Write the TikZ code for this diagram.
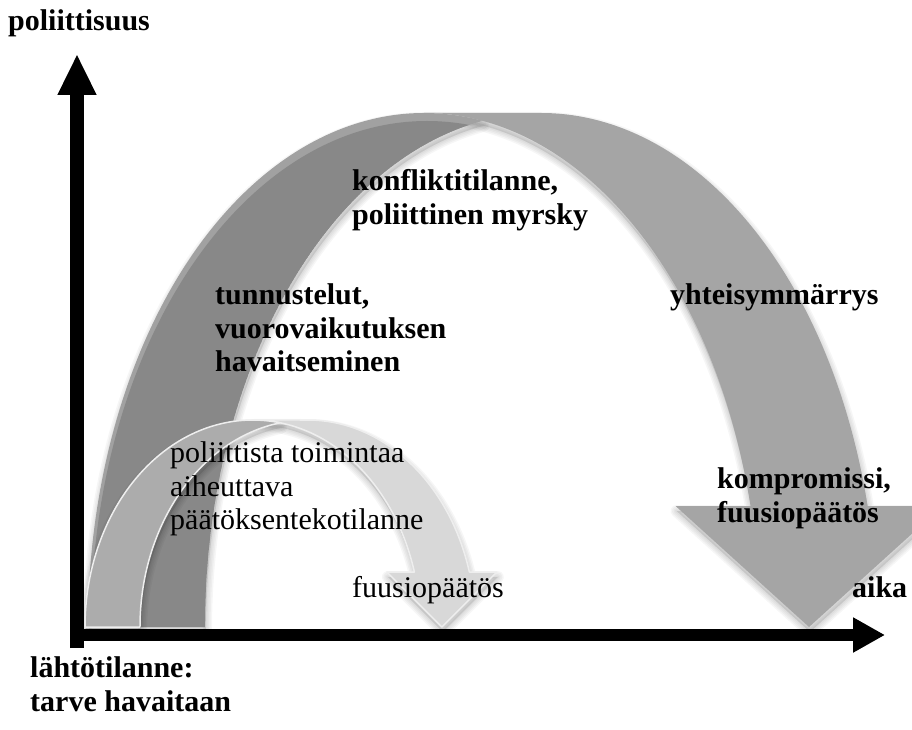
\documentclass[tikz,border=0pt]{standalone}
\usepackage{fontspec}
\setmainfont{Liberation Serif}
\usetikzlibrary{arrows.meta}

\definecolor{bigfront}{HTML}{A5A5A5}
\definecolor{bigback}{HTML}{888888}
\definecolor{bigrim}{HTML}{A1A1A1}
\definecolor{smallback}{HTML}{ACACAC}
\definecolor{smallfront}{HTML}{D8D8D8}
\definecolor{smalledge}{HTML}{EEEEEE}

% Geometry of a curved "down" ribbon arrow built from two equal ellipses
% #1 left foot x, #2 base y, #3 band width, #4 half width of the ellipses,
% #5 height, #6 depth of the head, #7 overhang of the head on each side
\newcommand\ribbonsetup[7]{%
  \pgfmathsetmacro\rL{#1}%
  \pgfmathsetmacro\rB{#2}%
  \pgfmathsetmacro\rT{#3}%
  \pgfmathsetmacro\rA{#4}%
  \pgfmathsetmacro\rH{#5}%
  \pgfmathsetmacro\rAh{#6}%
  \pgfmathsetmacro\rDh{#7}%
  \pgfmathsetmacro\rCa{\rL+\rA}%
  \pgfmathsetmacro\rCb{\rCa+\rT}%
  \pgfmathsetmacro\rTh{asin(\rAh/\rH)}%
  \pgfmathsetmacro\rXa{\rCa+\rA*cos(\rTh)}%
  \pgfmathsetmacro\rXb{\rXa+\rT}%
  \pgfmathsetmacro\rYh{\rB+\rAh}%
  \pgfmathsetmacro\rTip{(\rXa+\rXb)/2}%
  \pgfmathsetmacro\rPa{acos(\rT/(2*\rA))}%
  \pgfmathsetmacro\rPb{180-\rPa}%
  \pgfmathsetmacro\rTop{\rB+\rH}%
}
% front face: from the crown down to the head
\newcommand\ribbonfront{(\rTip,\rB) -- (\rXa-\rDh,\rYh) -- (\rXa,\rYh)
  arc[start angle=\rTh, end angle=90, x radius=\rA, y radius=\rH]
  -- (\rCb,\rTop)
  arc[start angle=90, end angle=\rTh, x radius=\rA, y radius=\rH]
  -- (\rXb+\rDh,\rYh) -- cycle}
% back face: the rising left leg
\newcommand\ribbonback{(\rL,\rB)
  arc[start angle=180, end angle=\rPa, x radius=\rA, y radius=\rH]
  arc[start angle=\rPb, end angle=180, x radius=\rA, y radius=\rH]
  -- cycle}
% soft shadow cast slightly downwards
\newcommand\softshadow[1]{%
  \begin{scope}[xshift=1pt, yshift=-5pt]
    \fill[black, opacity=0.10] #1;
    \foreach \w in {3,6,9,12} {\draw[black, opacity=0.035, line width=\w pt, line join=round] #1;}
  \end{scope}}

\begin{document}
\begin{tikzpicture}[x=1pt, y=1pt,
  lbl/.style={anchor=north west, inner sep=0pt, align=left,
    font=\fontsize{30}{33.5}\selectfont\bfseries},
  lblreg/.style={lbl, font=\fontsize{30}{33.5}\selectfont},
  yaxis/.style={line width=14pt, -{Triangle[length=41pt, width=36pt]}},
  xaxis/.style={line width=12pt, -{Triangle[length=32pt, width=33pt]}},
  axshadow/.style={black, opacity=0.12},
]
\useasboundingbox (0,0) rectangle (912,729);
\clip (0,0) rectangle (912,729);

% large arch
\ribbonsetup{88}{102}{117}{336}{514}{121}{75}
\softshadow{\ribbonback}
\softshadow{\ribbonfront}
\fill[bigfront] \ribbonfront;
\begin{scope}
  \clip \ribbonback;
  % lighter rim along the outer edge, widening towards the crown
  \fill[bigrim] \ribbonback;
  \fill[bigback] (\rCa+3,\rB) ellipse[x radius=\rA, y radius=\rH-8];
\end{scope}

% small arch
\ribbonsetup{85}{102}{55}{167.7}{207}{55}{27.5}
\softshadow{\ribbonback}
\softshadow{\ribbonfront}
\filldraw[fill=smallfront, draw=smalledge, line width=1.5pt, line join=round] \ribbonfront;
\filldraw[fill=smallback, draw=smalledge, line width=1.5pt, line join=round] \ribbonback;

% axes
\coordinate (org) at (77,81);
\coordinate (ytop) at (77,675);
\coordinate (xstart) at (70,94);
\coordinate (xend) at (885,94);
\begin{scope}[xshift=2pt, yshift=-4pt]
  \draw[yaxis, axshadow] (org) -- (ytop);
  \draw[xaxis, axshadow] (xstart) -- (xend);
\end{scope}
\draw[yaxis] (org) -- (ytop);
\draw[xaxis] (xstart) -- (xend);

% labels
\node[lbl] (ylab) at (8,720) {poliittisuus};
\node[lbl] (storm) at (352,559.5) {konfliktitilanne,\\poliittinen myrsky};
\node[lbl] (probe) at (215,445.5) {tunnustelut,\\vuorovaikutuksen\\havaitseminen};
\node[lbl] (agree) at (670,445.5) {yhteisymmärrys};
\node[lbl] (comp) at (717,261.5) {kompromissi,\\fuusiopäätös};
\node[lbl] (xlab) at (852,152.5) {aika};
\node[lblreg] (trigger) at (170,287.5) {poliittista toimintaa\\aiheuttava\\päätöksentekotilanne};
\node[lblreg] (fusion) at (352,152.5) {fuusiopäätös};
\node[lbl] (start) at (30,72.5) {lähtötilanne:\\tarve havaitaan};
\end{tikzpicture}
\end{document}
